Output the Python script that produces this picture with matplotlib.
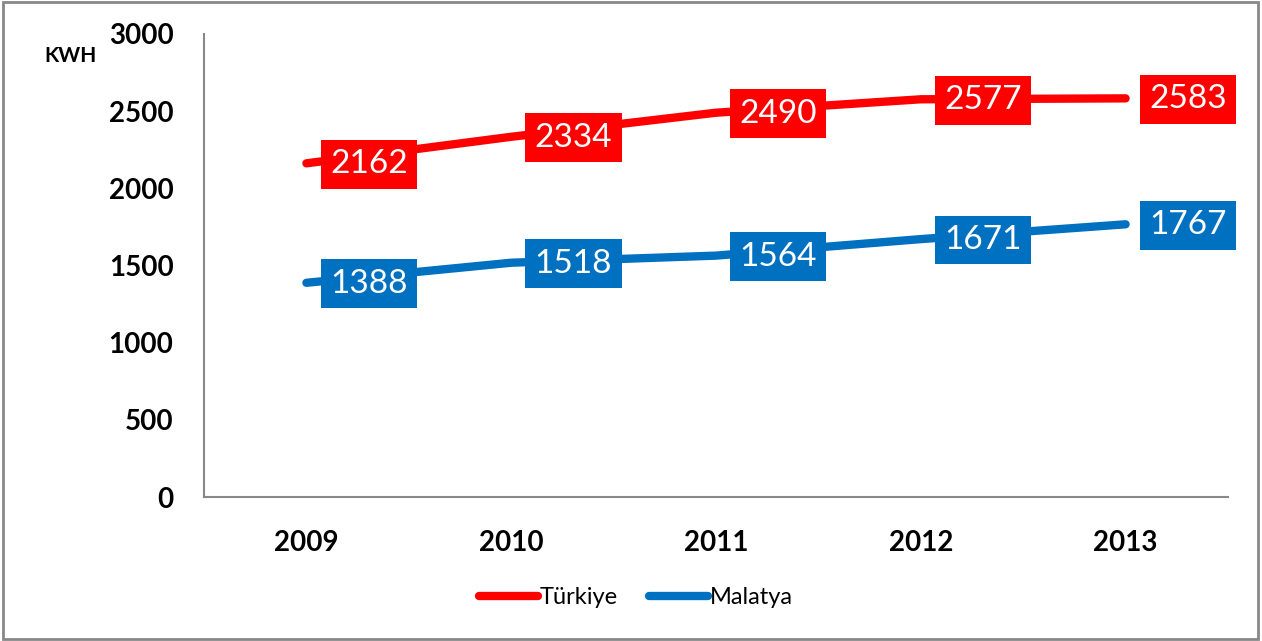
import matplotlib
matplotlib.use("Agg")
import matplotlib.pyplot as plt
from matplotlib.patches import Rectangle

years = ["2009", "2010", "2011", "2012", "2013"]
turkiye = [2162, 2334, 2490, 2577, 2583]
malatya = [1388, 1518, 1564, 1671, 1767]
series_names = ["Türkiye", "Malatya"]
colors = ["#FF0000", "#0070C0"]
y_ticks = [0, 500, 1000, 1500, 2000, 2500, 3000]
y_unit = "KWH"

plt.rcParams['font.family'] = ['Lato', 'DejaVu Sans']

fig = plt.figure(figsize=(12.62, 6.41), dpi=100)
ax = fig.add_axes([204/1262, 1-497/641, (1228-204)/1262, (497-34)/641])

x = list(range(len(years)))
for vals, name, col in zip([turkiye, malatya], series_names, colors):
    ax.plot(x, vals, color=col, lw=6, solid_capstyle='round', label=name, zorder=2)
    for xi, v in zip(x, vals):
        ax.annotate(str(v), xy=(xi, v), xytext=(17, 1.5), textcoords='offset points',
                    ha='left', va='center_baseline', fontsize=24, color='white',
                    bbox=dict(boxstyle='square,pad=0.28', fc=col, ec='none'), zorder=3)

ax.set_xlim(-0.5, len(years) - 0.5)
ax.set_ylim(0, 3000)
ax.set_yticks(y_ticks)
ax.set_yticklabels([str(t) for t in y_ticks], fontsize=20, fontweight='bold')
ax.set_xticks(x)
ax.set_xticklabels(years, fontsize=20, fontweight='bold')
ax.tick_params(axis='both', length=0)
ax.tick_params(axis='y', pad=22)
ax.tick_params(axis='x', pad=24)
for s in ['top', 'right']:
    ax.spines[s].set_visible(False)
for s in ['left', 'bottom']:
    ax.spines[s].set_color('#888888')
    ax.spines[s].set_linewidth(1.5)

fig.text(70/1262, 1-56/641, y_unit, ha='center', va='center', fontsize=15, fontweight='bold')

leg = fig.legend(loc='center', bbox_to_anchor=(636/1262, 1-598/641), ncol=2, frameon=False,
                 fontsize=17, handlelength=2.5, handletextpad=0.1, columnspacing=1.3)

fig.patches.append(Rectangle((0.002, 0.003), 0.995, 0.994, transform=fig.transFigure,
                             fill=False, ec='#888888', lw=2))

fig.savefig("out.png", dpi=100)
